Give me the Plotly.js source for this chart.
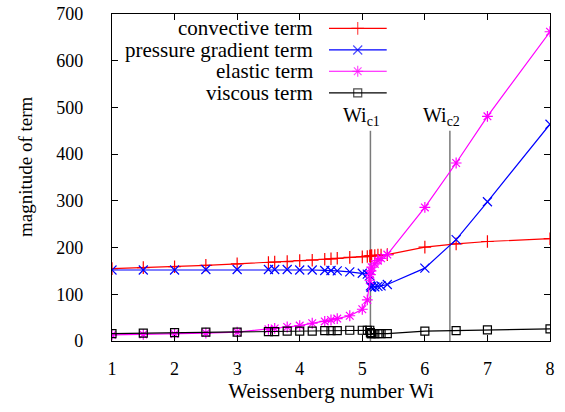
<!DOCTYPE html>
<html>
<head>
<meta charset="utf-8">
<script src="https://cdn.plot.ly/plotly-3.0.1.min.js"></script>
<style>
  html, body { margin: 0; padding: 0; background: #fff; }
  #chart { width: 565px; height: 412px; }
  .modebar-container { display: none !important; }
  svg text { font-family: 'Liberation Serif', serif !important; }
</style>
</head>
<body>
<div id="chart"></div>
<script>
// Weissenberg numbers of the computed states
const wi = [1, 1.5, 2, 2.5, 3, 3.5, 3.6, 3.8, 4, 4.2, 4.4, 4.5, 4.6, 4.8, 5, 5.08,
            5.12, 5.13, 5.14, 5.15, 5.2, 5.25, 5.3, 5.4, 6, 6.5, 7, 8];

// magnitude of each term in the momentum balance
const convective = [155, 157, 159, 162, 165, 168, 169, 170, 172, 173, 175, 176, 177, 179, 180, 181,
                    182, 182, 182, 183, 183, 184, 184, 185, 201, 208, 213, 219];
const pressure   = [152, 152, 152, 153, 153, 153, 153, 153, 152, 152, 151, 151, 150, 148, 145, 143,
                    140, 118, 115, 116, 116, 117, 118, 121, 156, 217, 298, 464];
const elastic    = [13, 14, 15, 17, 19, 25, 27, 30, 33, 38, 42, 45, 48, 54, 68, 88,
                    130, 142, 150, 158, 165, 172, 177, 185, 286, 381, 481, 662];
const viscous    = [16, 17, 18, 19, 19, 20, 20, 21, 21, 21, 22, 22, 22, 23, 23, 23,
                    23, 18, 16, 16, 16, 16, 16, 16, 21, 22, 24, 26];

const seriesNames = ['convective term', 'pressure gradient term', 'elastic term', 'viscous term'];
const seriesData = [convective, pressure, elastic, viscous];

// critical Weissenberg numbers
const criticalWi = [5.13, 6.4];
const criticalLabels = ['Wi<sub>c1</sub>', 'Wi<sub>c2</sub>'];
const criticalLineTop = 450;

const xTickVals = [1, 2, 3, 4, 5, 6, 7, 8];
const yTickVals = [0, 100, 200, 300, 400, 500, 600, 700];

// styling
const colors = ['#ff0000', '#0000ff', '#ff00ff', '#000000'];
const symbols = ['cross-thin-open', 'x-thin-open', 'asterisk-open', 'square-open'];
const sizes = [9, 9, 9, 8];
const TEXT = '#000';
const serif = (size) => ({ family: 'Liberation Serif', size: size, color: TEXT });

const traces = seriesData.map((vals, i) => ({
  type: 'scatter',
  mode: 'lines+markers',
  x: wi,
  y: vals,
  name: seriesNames[i],
  line: { color: colors[i], width: 1.2 },
  marker: { symbol: symbols[i], size: sizes[i], color: colors[i],
            line: { color: colors[i], width: 1.2 } },
  showlegend: false,
  hoverinfo: 'skip'
}));

// key: text on the left, line sample with its marker on the right
const keyRows = [0.956, 0.890, 0.825, 0.759];
const keyText = 0.4635, keyLine0 = 0.4954, keyLine1 = 0.6272, keyMark = 0.561;

traces.push({
  type: 'scatter', mode: 'markers',
  x: keyRows.map(() => keyMark), y: keyRows,
  xaxis: 'x2', yaxis: 'y2',
  marker: { symbol: symbols, size: sizes, color: colors,
            line: { color: colors, width: 1.2 } },
  showlegend: false, hoverinfo: 'skip'
});

const shapes = [];
const annotations = [];

keyRows.forEach((ky, i) => {
  shapes.push({ type: 'line', xref: 'paper', yref: 'paper',
                x0: keyLine0, x1: keyLine1, y0: ky, y1: ky,
                line: { color: colors[i], width: 1.2 } });
  annotations.push({ xref: 'paper', yref: 'paper', x: keyText, y: ky,
                     xanchor: 'right', yanchor: 'middle', showarrow: false,
                     text: seriesNames[i], font: serif(21) });
});

criticalWi.forEach((w, i) => {
  shapes.push({ type: 'line', xref: 'x', yref: 'y', x0: w, x1: w, y0: 0, y1: criticalLineTop,
                line: { color: '#7a7a7a', width: 1.5 }, layer: 'below' });
  annotations.push({ xref: 'x', yref: 'y', x: w, y: criticalLineTop,
                     xanchor: 'left', yanchor: 'bottom', xshift: -29, yshift: 0,
                     showarrow: false, text: criticalLabels[i], font: serif(20) });
});

annotations.push({ xref: 'paper', yref: 'paper', x: 0, y: 0.532, xshift: -87,
                   xanchor: 'center', yanchor: 'middle', textangle: -90, showarrow: false,
                   text: 'magnitude of term', font: serif(19) });

const layout = {
  width: 565, height: 412,
  margin: { l: 112, r: 15, t: 14, b: 71 },
  paper_bgcolor: '#fff', plot_bgcolor: '#fff',
  xaxis: {
    showgrid: false, zeroline: false,
    showline: true, linecolor: '#000', linewidth: 1.3, mirror: 'ticks',
    ticks: 'inside', ticklen: 6, tickwidth: 1, tickcolor: '#000',
    tickfont: serif(18),
    range: [1, 8], tickvals: xTickVals, ticklabelstandoff: 11,
    title: { text: 'Weissenberg number Wi', standoff: 3, font: serif(21) }
  },
  yaxis: {
    showgrid: false, zeroline: false,
    showline: true, linecolor: '#000', linewidth: 1.3, mirror: 'ticks',
    ticks: 'inside', ticklen: 6, tickwidth: 1, tickcolor: '#000',
    tickfont: serif(18),
    range: [0, 700], tickvals: yTickVals, ticklabelstandoff: 24
  },
  xaxis2: { overlaying: 'x', range: [0, 1], visible: false, fixedrange: true },
  yaxis2: { overlaying: 'y', range: [0, 1], visible: false, fixedrange: true },
  shapes: shapes,
  annotations: annotations,
  showlegend: false
};

Plotly.newPlot('chart', traces, layout);
</script>
</body>
</html>
